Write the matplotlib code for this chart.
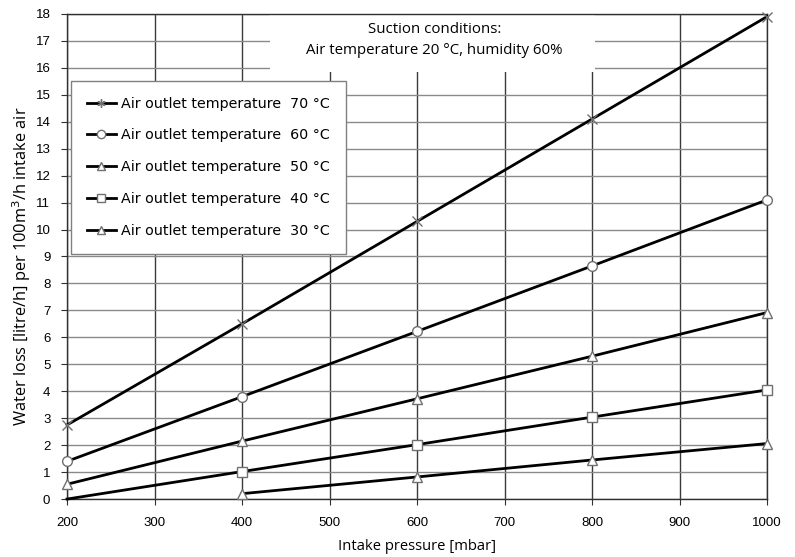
import matplotlib.pyplot as plt
from matplotlib.lines import Line2D
import numpy as np

# intake pressure [mbar]
pressure = [200, 400, 600, 800, 1000]

loss_70 = [2.75, 6.5, 10.3, 14.1, 17.9]
loss_60 = [1.4, 3.8, 6.22, 8.65, 11.1]
loss_50 = [0.55, 2.15, 3.72, 5.3, 6.92]
loss_40 = [0.0, 1.02, 2.02, 3.04, 4.05]
pressure_30 = [400, 600, 800, 1000]
loss_30 = [0.2, 0.82, 1.45, 2.06]

labels = [
    "Air outlet temperature  70 °C",
    "Air outlet temperature  60 °C",
    "Air outlet temperature  50 °C",
    "Air outlet temperature  40 °C",
    "Air outlet temperature  30 °C",
]

x_ticks = np.arange(200, 1001, 100)
y_ticks = np.arange(0, 19, 1)

fig = plt.figure(figsize=(7.95, 5.57), dpi=100)
ax = fig.add_axes([0.0843, 0.104, 0.8805, 0.871])

line_kw = dict(color="black", linewidth=2, markersize=7,
               markerfacecolor="white", markeredgecolor="#707070",
               markeredgewidth=1, clip_on=False, zorder=5)

ax.plot(pressure, loss_70, marker="x", **line_kw)
ax.plot(pressure, loss_60, marker="o", **line_kw)
ax.plot(pressure, loss_50, marker="^", **line_kw)
ax.plot(pressure, loss_40, marker="s", markevery=[1, 2, 3, 4], **line_kw)
ax.plot(pressure_30, loss_30, marker="^", **line_kw)

ax.set_xlim(200, 1000)
ax.set_ylim(0, 18)
ax.set_xticks(x_ticks)
ax.set_yticks(y_ticks)

ax.grid(axis="x", color="#3a3a3a", linewidth=1)
ax.grid(axis="y", color="#8a8a8a", linewidth=1)
ax.set_axisbelow(True)

for s in ax.spines.values():
    s.set_color("#303030")
    s.set_linewidth(1)

ax.tick_params(direction="out", length=4, color="#303030",
               labelsize=9.5)
ax.tick_params(axis="x", pad=9)
ax.tick_params(axis="y", pad=8)
for lab in ax.get_xticklabels() + ax.get_yticklabels():
    lab.set_fontfamily("Liberation Sans")

ax.set_xlabel("Intake pressure [mbar]", fontfamily="Open Sans",
              fontsize=10.6, labelpad=7)
ax.set_ylabel("Water loss [litre/h] per 100m$^3$/h intake air",
              fontfamily="Open Sans", fontsize=11.8)
ax.yaxis.set_label_coords(-0.049, 0.48)

# white box behind the annotation hides the gridlines
ax.add_patch(plt.Rectangle((432, 15.85), 371, 2.15, facecolor="white",
                           edgecolor="none", zorder=2))
ax.text(620, 17.02, "Suction conditions:\nAir temperature 20 °C, humidity 60%",
        ha="center", va="center", fontfamily="Open Sans", fontsize=10.8,
        linespacing=1.55, zorder=3)

markers = [(6, 2, 0), "o", "^", "s", "^"]
handles = [
    Line2D([], [], color="black", linewidth=2, marker=m, markersize=6,
           markerfacecolor="white", markeredgecolor="#707070",
           markeredgewidth=1)
    for m in markers
]

leg = ax.legend(handles, labels, loc="upper left",
                bbox_to_anchor=(0.006, 0.862),
                prop={"family": "DejaVu Sans", "size": 10.3},
                frameon=True, fancybox=False, framealpha=1,
                edgecolor="#808080", handlelength=2.0,
                labelspacing=1.25, borderpad=1.1, handletextpad=0.4,
                borderaxespad=0)
leg.get_frame().set_linewidth(1)
leg.set_zorder(10)

fig.savefig("out.png", dpi=100)
